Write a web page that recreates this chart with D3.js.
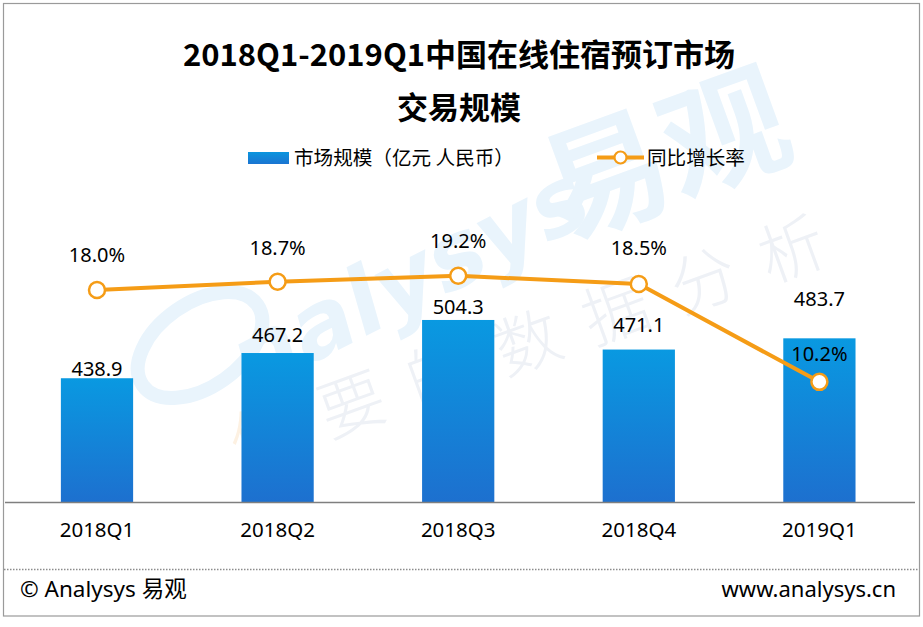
<!DOCTYPE html>
<html><head><meta charset="utf-8">
<script src="https://cdn.jsdelivr.net/npm/d3@7"></script>
<style>
html,body{margin:0;padding:0;background:#fff;}
svg{display:block;font-family:"Noto Sans","Noto Sans CJK SC",sans-serif;}
</style></head>
<body>
<svg id="chart" width="923" height="627"></svg>
<script>
const categories = ["2018Q1","2018Q2","2018Q3","2018Q4","2019Q1"];
const marketSize = [438.9, 467.2, 504.3, 471.1, 483.7];
const growthRate = [18.0, 18.7, 19.2, 18.5, 10.2];
const seriesNames = ["市场规模（亿元 人民币）","同比增长率"];
const titleLines = ["2018Q1-2019Q1中国在线住宿预订市场","交易规模"];
// label layout (px above bar top / point)
const barLabelDy = [2, 11, 6, 18, 32];
const rateLabelDy = [28, 27, 28, 29, 21];

const W = 923, H = 627, baseY = 502;
const svg = d3.select("#chart");
const CJK = '"Noto Sans CJK SC","Noto Sans",sans-serif';

const defs = svg.append("defs");
const g1 = defs.append("linearGradient").attr("id","barGrad").attr("x1",0).attr("y1",0).attr("x2",0).attr("y2",1);
g1.append("stop").attr("offset","0%").attr("stop-color","#0999E1");
g1.append("stop").attr("offset","100%").attr("stop-color","#1D70CF");
const g2 = defs.append("linearGradient").attr("id","legGrad").attr("x1",0).attr("y1",0).attr("x2",0).attr("y2",1);
g2.append("stop").attr("offset","0%").attr("stop-color","#0A95DE");
g2.append("stop").attr("offset","100%").attr("stop-color","#1B74D1");

// border
svg.append("rect").attr("x",3.5).attr("y",3.5).attr("width",916).attr("height",612.5)
  .attr("fill","#fff").attr("stroke","#9a9a9a").attr("stroke-width",1.2);

// watermark
const wm = svg.append("g").attr("pointer-events","none");
wm.append("ellipse").attr("cx",200).attr("cy",345).attr("rx",70).attr("ry",42)
  .attr("transform","rotate(-35,200,345)").attr("fill","none").attr("stroke","#e9f4fc").attr("stroke-width",14);
wm.append("text").attr("x",250).attr("y",395).attr("transform","rotate(-27,250,395)")
  .attr("font-size",92).attr("font-weight","bold").attr("font-style","italic")
  .attr("fill","#e9f4fc").style("font-family",'"DejaVu Sans",sans-serif').text("nalysys");
wm.append("text").attr("x",562).attr("y",240).attr("transform","rotate(-20,562,240)")
  .attr("font-size",126).attr("font-weight","bold").attr("fill","#e9f4fc")
  .style("font-family",CJK).text("易观");
const slogan = ["你","要","的","数","据","分","析"];
wm.selectAll("text.sl").data(slogan).join("text").attr("class","sl")
  .attr("transform",(d,i)=>`translate(${272+i*88},${458-i*31}) rotate(-20)`)
  .attr("font-size",66).attr("font-weight",300).attr("text-anchor","middle")
  .attr("fill",(d,i)=>i===0?"#fdf1e2":"#eef1f6").style("font-family",CJK).text(d=>d);

// title
svg.selectAll("text.title").data(titleLines).join("text").attr("class","title")
  .attr("x",459).attr("y",(d,i)=>66+i*53).attr("text-anchor","middle")
  .attr("font-size",31).attr("font-weight","bold").attr("fill","#000")
  .style("font-family",CJK).text(d=>d);

// scales
const x = d3.scaleBand().domain(categories).range([6.7, 909.7]).paddingInner(0.6).paddingOuter(0.3);
const yBar = d3.scaleLinear().domain([300, 600]).range([baseY, 234.7]);
const yLine = d3.scaleLinear().domain([0, 20]).range([baseY, 266.4]);
const cx = c => x(c) + x.bandwidth()/2;

// bars
svg.selectAll("rect.bar").data(marketSize).join("rect").attr("class","bar")
  .attr("x",(d,i)=>x(categories[i])).attr("width",x.bandwidth())
  .attr("y",d=>yBar(d)).attr("height",d=>baseY-yBar(d)).attr("fill","url(#barGrad)");

// x axis
const xAxis = svg.append("g").attr("transform",`translate(0,${baseY})`)
  .call(d3.axisBottom(x).tickSize(0).tickPadding(20));
xAxis.select(".domain").attr("d","M5,0.5H915").attr("stroke","#7f7f7f").attr("stroke-width",1.5);
xAxis.selectAll("text").attr("font-size",20.5).attr("fill","#000")
  .style("font-family",'"Noto Sans",sans-serif').attr("dy","0.71em");

// bar labels
svg.selectAll("text.blab").data(marketSize).join("text").attr("class","blab")
  .attr("x",(d,i)=>cx(categories[i])).attr("y",(d,i)=>yBar(d)-barLabelDy[i])
  .attr("text-anchor","middle").attr("font-size",20).attr("fill","#000").text(d=>d.toFixed(1));

// line
const line = d3.line().x((d,i)=>cx(categories[i])).y(d=>yLine(d));
svg.append("path").datum(growthRate).attr("d",line).attr("fill","none")
  .attr("stroke","#F59C16").attr("stroke-width",4).attr("stroke-linejoin","round");
svg.selectAll("circle.pt").data(growthRate).join("circle").attr("class","pt")
  .attr("cx",(d,i)=>cx(categories[i])).attr("cy",d=>yLine(d)).attr("r",8)
  .attr("fill","#fff").attr("stroke","#F59C16").attr("stroke-width",2.5);
svg.selectAll("text.rlab").data(growthRate).join("text").attr("class","rlab")
  .attr("x",(d,i)=>cx(categories[i])).attr("y",(d,i)=>yLine(d)-rateLabelDy[i])
  .attr("text-anchor","middle").attr("font-size",20).attr("fill","#000").text(d=>d.toFixed(1)+"%");

// legend
const leg = svg.append("g").style("font-family",CJK);
leg.append("rect").attr("x",248).attr("y",152).attr("width",41).attr("height",12).attr("fill","url(#legGrad)");
leg.append("text").attr("x",294).attr("y",164.5).attr("font-size",19.6).attr("fill","#000").text(seriesNames[0]);
leg.append("line").attr("x1",597).attr("x2",644).attr("y1",157.5).attr("y2",157.5)
  .attr("stroke","#F59C16").attr("stroke-width",4);
leg.append("circle").attr("cx",620.5).attr("cy",157.5).attr("r",6).attr("fill","#fff")
  .attr("stroke","#F59C16").attr("stroke-width",2.2);
leg.append("text").attr("x",647).attr("y",164.5).attr("font-size",19.6).attr("fill","#000").text(seriesNames[1]);

// footer
svg.append("line").attr("x1",4).attr("x2",919).attr("y1",569.5).attr("y2",569.5)
  .attr("stroke","#8c8c8c").attr("stroke-width",1.5).attr("stroke-dasharray","1.5,1.5");
svg.append("text").attr("x",20).attr("y",597).attr("font-size",22.5).attr("fill","#000")
  .text("© Analysys 易观");
svg.append("text").attr("x",896).attr("y",597).attr("text-anchor","end").attr("font-size",22)
  .attr("fill","#000").text("www.analysys.cn");
</script>
</body></html>
